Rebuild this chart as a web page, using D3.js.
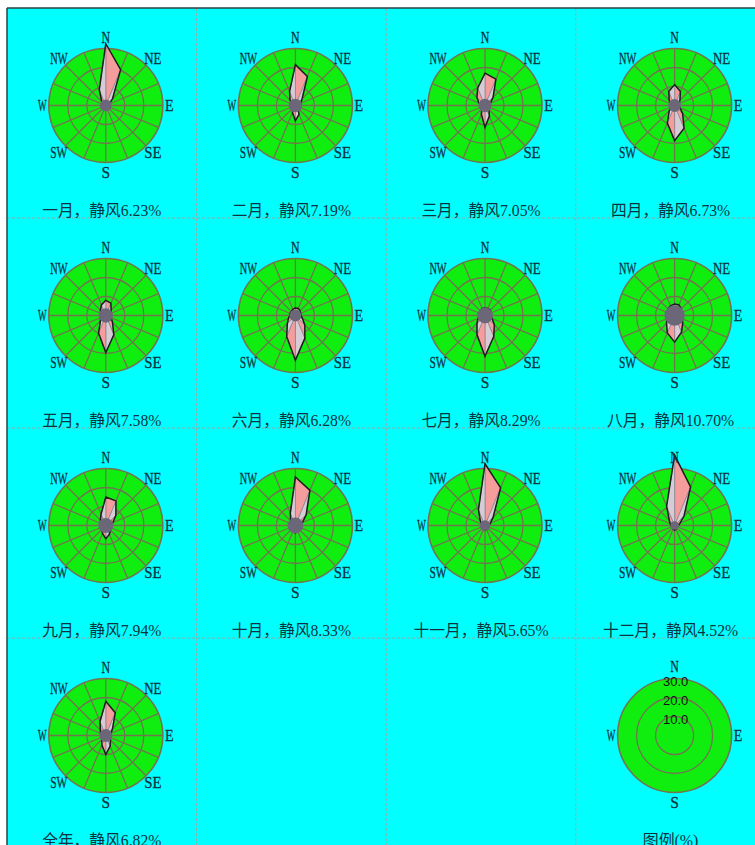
<!DOCTYPE html>
<html>
<head>
<meta charset="utf-8">
<script src="https://cdn.jsdelivr.net/npm/d3@7"></script>
<style>
  html, body { margin: 0; padding: 0; background: #ffffff; }
  svg { display: block; }
</style>
</head>
<body>
<svg id="chart" width="755" height="845"></svg>
<script>
// 16 compass sectors, clockwise from north
const directions = ["N","NNE","NE","ENE","E","ESE","SE","SSE","S","SSW","SW","WSW","W","WNW","NW","NNW"];
const compassLabels = ["N","NE","E","SE","S","SW","W","NW"];
const ringTicks = [10, 20, 30];

// Panel titles and calm-wind percentages
const periods = ["一月","二月","三月","四月","五月","六月","七月","八月","九月","十月","十一月","十二月","全年"];
const calmPct = [6.23, 7.19, 7.05, 6.73, 7.58, 6.28, 8.29, 10.70, 7.94, 8.33, 5.65, 4.52, 6.82];

// Wind direction frequency (%) per sector, in the order of `directions`
const freqJan = [32.5, 20.4, 5, 2, 1.5, 1, 1, 1.5, 2, 1.5, 1, 1, 1, 1.5, 3, 9];
const freqFeb = [21.5, 16.5, 5, 3, 2, 2, 2, 5, 8, 4, 2, 1.5, 1.5, 2, 4, 8];
const freqMar = [17, 15, 6, 3, 2, 2, 3, 6, 11.5, 5, 2.5, 2, 2, 3.5, 6, 10];
const freqApr = [11, 8, 4, 2.5, 2, 3, 6, 13, 18.5, 10, 4, 2, 2, 2.5, 4, 8];
const freqMay = [8, 7, 4, 3, 3, 3, 5, 11, 19.5, 10, 4, 3, 2.5, 3, 4, 6];
const freqJun = [4, 4, 3.5, 3, 3, 4, 7, 13, 23.5, 12, 6, 4, 3, 3, 3, 3.5];
const freqJul = [4, 4, 4, 3.5, 3, 4, 7, 12, 21.5, 11, 6, 4, 3, 3, 3.5, 4];
const freqAug = [6, 6, 5, 4, 4, 4.5, 6, 9.5, 14, 10, 6, 4.5, 4, 4, 5, 5.5];
const freqSep = [15, 14, 7.5, 4, 3, 3, 3.5, 5, 7, 4.5, 3, 2.5, 2.5, 3, 4, 6.5];
const freqOct = [25.5, 20, 8, 4, 3, 2.5, 2.5, 3, 4, 3, 2.5, 2, 2, 2.5, 3.5, 7];
const freqNov = [32.5, 21.5, 6, 3, 2, 1.5, 1.5, 2, 2.5, 2, 1.5, 1.5, 1.5, 2, 3.5, 9];
const freqDec = [37, 22, 7, 3, 2, 1.5, 1.5, 2, 2.5, 2, 1.5, 1.5, 2, 2.5, 4, 11];
const freqYear = [18, 13, 5, 3, 2.5, 2.5, 3.5, 6, 10, 5.5, 3, 2.5, 2.5, 3, 4, 8];
const roseFreqs = [freqJan, freqFeb, freqMar, freqApr, freqMay, freqJun, freqJul,
                   freqAug, freqSep, freqOct, freqNov, freqDec, freqYear];

const legendTitle = "图例(%)";

// ---- layout ----
const svg = d3.select("#chart");
const W = 755, H = 845;
const gridLeft = 7, gridTop = 8, cellW = 189.6, cellH = 210;
const roseDx = 4, roseDy = 97.5, captionDy = 208;

const COLORS = {
  bg: "#00ffff",
  disc: "#10ee10",
  grid: "#73734f",
  text: "#0d3342",
  pink: "#f59c9c",
  lilac: "#d6ccd6",
  outline: "#1c1c1c",
  calm: "#6b6779",
  divider: "#9aa6a6",
  frame: "#2b4248"
};

const r = d3.scaleLinear().domain([0, 30]).range([0, 57]);
const angle = d3.scaleLinear().domain([0, directions.length]).range([0, 2 * Math.PI]);

// background
svg.append("rect").attr("x", gridLeft).attr("y", gridTop)
  .attr("width", W - gridLeft).attr("height", H - gridTop)
  .attr("fill", COLORS.bg);

// cell dividers
const divG = svg.append("g")
  .attr("stroke", COLORS.divider).attr("stroke-width", 1)
  .attr("stroke-dasharray", "3,2").attr("fill", "none");
d3.range(1, 4).forEach(k => {
  const x = gridLeft + k * cellW;
  divG.append("line").attr("x1", x).attr("x2", x).attr("y1", gridTop).attr("y2", H);
  const y = gridTop + k * cellH;
  divG.append("line").attr("x1", gridLeft).attr("x2", W).attr("y1", y).attr("y2", y);
});

// frame (top and left edges are the visible ones)
svg.append("line").attr("x1", gridLeft).attr("x2", W).attr("y1", gridTop).attr("y2", gridTop)
  .attr("stroke", COLORS.frame).attr("stroke-width", 1.5);
svg.append("line").attr("x1", gridLeft).attr("x2", gridLeft).attr("y1", gridTop).attr("y2", H)
  .attr("stroke", COLORS.frame).attr("stroke-width", 1.5);

const serif = '"Liberation Serif", "Noto Sans CJK SC", serif';

function textWidthUnits(s) {
  let u = 0;
  for (const ch of s) u += ch.charCodeAt(0) > 255 ? 1 : 0.5;
  return u;
}

function caption(g, text, x, y) {
  g.append("text")
    .attr("x", x).attr("y", y)
    .attr("text-anchor", "middle")
    .attr("font-family", serif)
    .attr("font-size", 16)
    .attr("fill", COLORS.text)
    .attr("textLength", textWidthUnits(text) * 15.9)
    .attr("lengthAdjust", "spacingAndGlyphs")
    .text(text);
}

function compassText(g, lbl, i8, dist) {
  const [px, py] = d3.pointRadial(i8 * Math.PI / 4, dist);
  g.append("text")
    .attr("x", px).attr("y", py)
    .attr("text-anchor", "middle")
    .attr("dominant-baseline", "central")
    .attr("font-family", serif)
    .attr("font-size", 16)
    .attr("fill", COLORS.text)
    .attr("stroke", COLORS.text).attr("stroke-width", 0.3)
    .attr("textLength", lbl.length * 8.6)
    .attr("lengthAdjust", "spacingAndGlyphs")
    .text(lbl);
}

function cellOrigin(idx) {
  const col = idx % 4, row = Math.floor(idx / 4);
  return [gridLeft + col * cellW, gridTop + row * cellH];
}

function drawRose(idx) {
  const [x0, y0] = cellOrigin(idx);
  const cx = x0 + cellW / 2 + roseDx, cy = y0 + roseDy;
  const g = svg.append("g").attr("transform", `translate(${cx},${cy})`);

  // base disc
  g.append("circle").attr("r", r(30)).attr("fill", COLORS.disc);

  // rings and spokes
  const grid = g.append("g").attr("stroke", COLORS.grid).attr("fill", "none").attr("stroke-width", 1.3);
  ringTicks.slice(0, -1).forEach(t => grid.append("circle").attr("r", r(t)));
  directions.forEach((d, i) => {
    const [px, py] = d3.pointRadial(angle(i), r(30));
    grid.append("line").attr("x1", 0).attr("y1", 0).attr("x2", px).attr("y2", py);
  });
  g.append("circle").attr("r", r(30)).attr("fill", "none")
    .attr("stroke", COLORS.grid).attr("stroke-width", 1.6);

  // frequency polygon, shaded sector by sector
  const vals = roseFreqs[idx];
  const pts = vals.map((v, i) => d3.pointRadial(angle(i), r(v)));
  const shade = g.append("g");
  pts.forEach((p, i) => {
    const q = pts[(i + 1) % pts.length];
    shade.append("path")
      .attr("d", `M0,0L${p[0]},${p[1]}L${q[0]},${q[1]}Z`)
      .attr("fill", i % 2 === 0 ? COLORS.pink : COLORS.lilac)
      .attr("stroke", "#8a8290").attr("stroke-width", 0.7);
  });
  const outline = d3.lineRadial()
    .angle((v, i) => angle(i))
    .radius(v => r(v))
    .curve(d3.curveLinearClosed);
  g.append("path").attr("d", outline(vals))
    .attr("fill", "none").attr("stroke", COLORS.outline).attr("stroke-width", 1.5)
    .attr("stroke-linejoin", "miter");

  // calm wind marker
  g.append("circle").attr("r", r(calmPct[idx]) / 2).attr("fill", COLORS.calm);

  // compass labels
  compassLabels.forEach((lbl, k) => {
    const dist = (k % 2 === 1) ? 66.5 : (k === 0 ? 68 : (k === 4 ? 67 : 63.5));
    compassText(g, lbl, k, dist);
  });

  caption(svg, `${periods[idx]}，静风${calmPct[idx].toFixed(2)}%`, x0 + cellW / 2, y0 + captionDy);
}

roseFreqs.forEach((_, i) => drawRose(i));

// legend panel: ring scale only
(function drawLegend() {
  const [x0, y0] = cellOrigin(15);
  const cx = x0 + cellW / 2 + roseDx, cy = y0 + roseDy;
  const g = svg.append("g").attr("transform", `translate(${cx},${cy})`);
  g.append("circle").attr("r", r(30)).attr("fill", COLORS.disc);
  const grid = g.append("g").attr("stroke", COLORS.grid).attr("fill", "none").attr("stroke-width", 1.3);
  ringTicks.slice(0, -1).forEach(t => grid.append("circle").attr("r", r(t)));
  g.append("circle").attr("r", r(30)).attr("fill", "none")
    .attr("stroke", COLORS.grid).attr("stroke-width", 1.6);

  ringTicks.forEach(t => {
    g.append("text")
      .attr("x", 1).attr("y", -r(t) + 2.5)
      .attr("text-anchor", "middle")
      .attr("dominant-baseline", "central")
      .attr("font-family", '"Liberation Sans", Arial, sans-serif')
      .attr("font-size", 13)
      .attr("fill", "#111")
      .text(d3.format(".1f")(t));
  });

  [["N", 0, 69.5], ["E", 2, 63.5], ["S", 4, 67], ["W", 6, 63.5]].forEach(([lbl, k, dist]) => {
    compassText(g, lbl, k, dist);
  });

  caption(svg, legendTitle, x0 + cellW / 2, y0 + captionDy);
})();
</script>
</body>
</html>
